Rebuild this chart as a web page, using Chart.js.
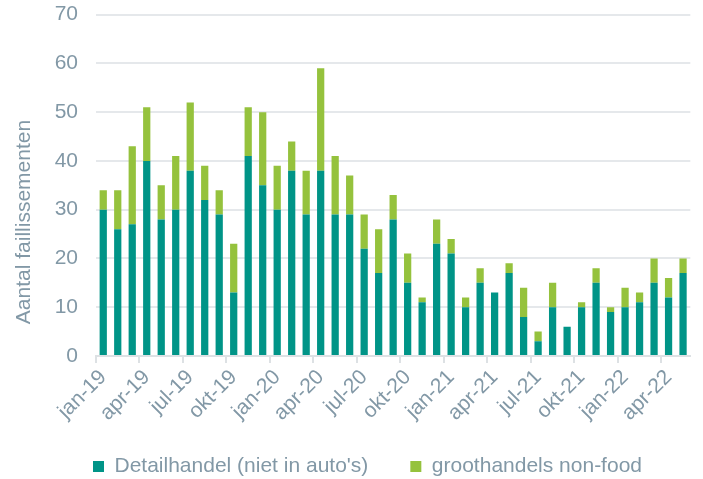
<!DOCTYPE html>
<html>
<head>
<meta charset="utf-8">
<script src="https://cdn.jsdelivr.net/npm/chart.js@4/dist/chart.umd.min.js"></script>
<style>
    html, body { margin: 0; padding: 0; background: #fff; }
    #wrap { width: 703px; height: 479px; }
</style>
</head>
<body>
<div id="wrap"><canvas id="failChart" width="703" height="479"></canvas></div>
<script>
// maanden jan-19 t/m mei-22
const months = [
    'jan-19', 'feb-19', 'mrt-19', 'apr-19', 'mei-19', 'jun-19', 'jul-19', 'aug-19', 'sep-19', 'okt-19', 'nov-19', 'dec-19',
    'jan-20', 'feb-20', 'mrt-20', 'apr-20', 'mei-20', 'jun-20', 'jul-20', 'aug-20', 'sep-20', 'okt-20', 'nov-20', 'dec-20',
    'jan-21', 'feb-21', 'mrt-21', 'apr-21', 'mei-21', 'jun-21', 'jul-21', 'aug-21', 'sep-21', 'okt-21', 'nov-21', 'dec-21',
    'jan-22', 'feb-22', 'mrt-22', 'apr-22', 'mei-22'
];

const detailhandel = [
    30, 26, 27, 40, 28, 30, 38, 32, 29, 13, 41, 35,
    30, 38, 29, 38, 29, 29, 22, 17, 28, 15, 11, 23,
    21, 10, 15, 13, 17, 8, 3, 10, 6, 10, 15, 9,
    10, 11, 15, 12, 17
];

const groothandelNonFood = [
    4, 8, 16, 11, 7, 11, 14, 7, 5, 10, 10, 15,
    9, 6, 9, 21, 12, 8, 7, 9, 5, 6, 1, 5,
    3, 2, 3, 0, 2, 6, 2, 5, 0, 1, 3, 1,
    4, 2, 5, 4, 3
];

const yTicks = [0, 10, 20, 30, 40, 50, 60, 70];

const textColor = '#8298a6';
const gridColor = '#e5e8eb';
const fontFamily = '"Liberation Sans", Arial, sans-serif';

// y-as titel iets lager dan het midden, zoals in het origineel
const yTitlePlugin = {
    id: 'yTitle',
    afterLayout(chart) {
        // legenda staat in het origineel wat meer naar rechts
        chart.legend.left += 21;
        chart.legend.right += 21;
        // labels van de x-as niet afknippen
        chart.scales.x.bottom += 40;
    },
    afterDraw(chart) {
        const ctx = chart.ctx;
        ctx.save();
        ctx.translate(24, 222);
        ctx.rotate(-Math.PI / 2);
        ctx.font = '21px ' + fontFamily;
        ctx.fillStyle = textColor;
        ctx.textAlign = 'center';
        ctx.textBaseline = 'middle';
        ctx.fillText('Aantal faillissementen', 0, 0);
        ctx.restore();
    }
};

const ctx = document.getElementById('failChart').getContext('2d');
const failChart = new Chart(ctx, {
    type: 'bar',
    data: {
        labels: months,
        datasets: [{
            label: "Detailhandel (niet in auto's)",
            data: detailhandel,
            backgroundColor: '#009487',
            barPercentage: 0.5,
            categoryPercentage: 1
        }, {
            label: 'groothandels non-food',
            data: groothandelNonFood,
            backgroundColor: '#95c23d',
            barPercentage: 0.5,
            categoryPercentage: 1
        }]
    },
    options: {
        responsive: false,
        animation: false,
        layout: {
            padding: { left: 0, right: 10, top: 0, bottom: -8 }
        },
        plugins: {
            tooltip: { enabled: false },
            legend: {
                position: 'bottom',
                labels: {
                    boxWidth: 11,
                    boxHeight: 11,
                    padding: 42,
                    color: textColor,
                    font: { family: fontFamily, size: 21 }
                }
            }
        },
        scales: {
            x: {
                stacked: true,
                border: { display: true, color: '#dde1e4', width: 2 },
                grid: {
                    offset: true,
                    drawOnChartArea: false,
                    drawTicks: true,
                    tickLength: 7,
                    lineWidth: 2,
                    color: function(c) {
                        return c.index % 3 === 0 ? '#dde1e4' : 'rgba(0,0,0,0)';
                    }
                },
                afterFit: function(scale) {
                    scale.height = 58;
                },
                ticks: {
                    autoSkip: false,
                    minRotation: 45,
                    maxRotation: 45,
                    padding: 2,
                    color: textColor,
                    font: { family: fontFamily, size: 21 },
                    callback: function(value, index) {
                        return index % 3 === 0 ? months[index] : '';
                    }
                }
            },
            y: {
                stacked: true,
                min: yTicks[0],
                max: yTicks[yTicks.length - 1],
                border: { display: false },
                grid: {
                    color: gridColor,
                    lineWidth: 2,
                    drawTicks: true,
                    tickLength: 16,
                    tickColor: 'rgba(0,0,0,0)'
                },
                afterBuildTicks: function(scale) {
                    scale.ticks = yTicks.map(v => ({ value: v }));
                },
                afterFit: function(scale) {
                    scale.width = 96;
                },
                ticks: {
                    padding: 2,
                    color: textColor,
                    font: { family: fontFamily, size: 21 }
                }
            }
        }
    },
    plugins: [yTitlePlugin]
});
</script>
</body>
</html>
